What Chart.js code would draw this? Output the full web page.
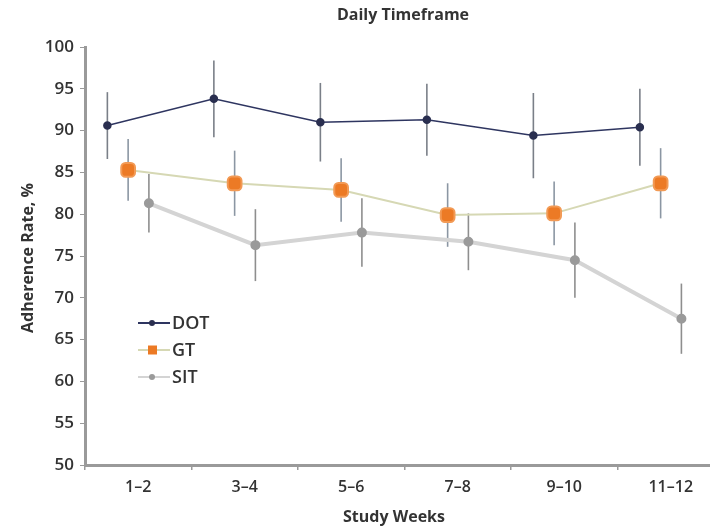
<!DOCTYPE html>
<html>
<head>
<meta charset="utf-8">
<script src="https://cdn.jsdelivr.net/npm/chart.js@4.4.0/dist/chart.umd.min.js"></script>
<style>
  html, body { margin: 0; padding: 0; background: #fff; overflow: hidden; }
  #wrap { width: 740px; height: 529px; }
</style>
</head>
<body>
<div id="wrap"><canvas id="chart" width="740" height="529"></canvas></div>
<script>
// data
const weeks = ["1–2", "3–4", "5–6", "7–8", "9–10", "11–12"];
const dotRate = [90.6, 93.8, 91.0, 91.3, 89.4, 90.4];
const dotErr = [4.0, 4.6, 4.7, 4.3, 5.1, 4.6];
const gtRate = [85.3, 83.7, 82.9, 79.9, 80.1, 83.7];
const gtErr = [3.7, 3.9, 3.8, 3.8, 3.8, 4.2];
const sitRate = [81.3, 76.3, 77.8, 76.7, 74.5, 67.5];
const sitErr = [3.5, 4.3, 4.1, 3.4, 4.5, 4.2];
const yTicks = [50, 55, 60, 65, 70, 75, 80, 85, 90, 95, 100];

const FONT = "'Open Sans', 'DejaVu Sans', sans-serif";
const TEXT = "#333";

// points sit a little left/right of the category centre
const toPoints = (vals, shift) => vals.map((v, i) => ({ x: i + shift, y: v }));

const series = [
  { label: "DOT", data: toPoints(dotRate, -0.29), errors: dotErr,
    borderColor: "#2e3560", borderWidth: 1.5, pointStyle: "circle", pointRadius: 3.5,
    pointBackgroundColor: "#2a2f50", pointBorderColor: "#2a2f50", errColor: "#7a7f88" },
  { label: "GT", data: toPoints(gtRate, -0.095), errors: gtErr,
    borderColor: "#d6d8b4", borderWidth: 2, pointStyle: "rectRounded", pointRadius: 8,
    pointBackgroundColor: "#ec7a25", pointBorderColor: "#f29a55", errColor: "#8b96a3" },
  { label: "SIT", data: toPoints(sitRate, 0.1), errors: sitErr,
    borderColor: "#d4d4d4", borderWidth: 4, pointStyle: "circle", pointRadius: 3,
    pointBackgroundColor: "#9a9a9a", pointBorderColor: "#9a9a9a", errColor: "#8e8e8e" },
];

/* // vertical error bars, drawn under the markers */
const errorBars = {
  id: "errorBars",
  beforeDatasetsDraw(chart) {
    const { ctx, scales: { x, y } } = chart;
    ctx.save();
    chart.data.datasets.forEach(ds => {
      ctx.strokeStyle = ds.errColor;
      ctx.lineWidth = 1.6;
      ds.data.forEach((p, i) => {
        const px = x.getPixelForValue(p.x);
        ctx.beginPath();
        ctx.moveTo(px, y.getPixelForValue(p.y + ds.errors[i]));
        ctx.lineTo(px, y.getPixelForValue(p.y - ds.errors[i]));
        ctx.stroke();
      });
    });
    ctx.restore();
  }
};

/* // titles + inset legend */
const extras = {
  id: "extras",
  afterDraw(chart) {
    const { ctx } = chart;
    ctx.save();
    ctx.fillStyle = TEXT;
    ctx.textAlign = "center";
    ctx.textBaseline = "middle";
    ctx.font = "bold 16px " + FONT;
    ctx.fillText("Daily Timeframe", 403, 15);
    ctx.fillText("Study Weeks", 394, 517);

    ctx.save();
    ctx.translate(28, 258);
    ctx.rotate(-Math.PI / 2);
    ctx.fillText("Adherence Rate, %", 0, 0);
    ctx.restore();

    ctx.textAlign = "left";
    ctx.font = "600 18px " + FONT;
    chart.data.datasets.forEach((ds, i) => {
      const ly = 323 + i * 27;
      ctx.strokeStyle = ds.borderColor;
      ctx.lineWidth = 2;
      ctx.beginPath();
      ctx.moveTo(138, ly);
      ctx.lineTo(170, ly);
      ctx.stroke();
      ctx.fillStyle = ds.pointBackgroundColor;
      ctx.beginPath();
      if (ds.label === "GT") ctx.rect(148, ly - 4.5, 9, 9);
      else ctx.arc(152, ly, 3, 0, Math.PI * 2);
      ctx.fill();
      ctx.fillStyle = TEXT;
      ctx.fillText(ds.label, 172, ly + 1);
    });
    ctx.restore();
  }
};

new Chart(document.getElementById("chart"), {
  type: "line",
  data: { datasets: series },
  plugins: [errorBars, extras],
  options: {
    responsive: false,
    animation: false,
    layout: { padding: { top: 47, right: 16, left: 0, bottom: 0 } },
    plugins: { legend: { display: false }, tooltip: { enabled: false } },
    scales: {
      x: {
        type: "linear",
        min: -0.5,
        max: 5.5,
        afterBuildTicks: (scale) => {
          const t = [];
          for (let v = -0.5; v <= 5.5; v += 0.5) t.push({ value: v });
          scale.ticks = t;
        },
        afterFit: (scale) => { scale.height = 64; },
        ticks: {
          autoSkip: false, maxRotation: 0, color: TEXT, padding: 8,
          font: { family: FONT, size: 16, weight: "600" },
          callback: (v) => Number.isInteger(v) ? weeks[v] : ""
        },
        grid: {
          drawOnChartArea: false, tickLength: 5, lineWidth: 1.5,
          color: (c) => (c.tick && Number.isInteger(c.tick.value)) ? "rgba(0,0,0,0)" : "#9a9a9a"
        },
        border: { color: "#9a9a9a", width: 3 }
      },
      y: {
        min: 50,
        max: 100,
        afterBuildTicks: (scale) => { scale.ticks = yTicks.map(v => ({ value: v })); },
        afterFit: (scale) => { scale.width = 85; },
        ticks: { color: TEXT, font: { family: FONT, size: 17, weight: "600" }, padding: 6 },
        grid: { drawOnChartArea: false, tickLength: 5, color: "#9a9a9a" },
        border: { color: "#9a9a9a", width: 3 }
      }
    }
  }
});
</script>
</body>
</html>
